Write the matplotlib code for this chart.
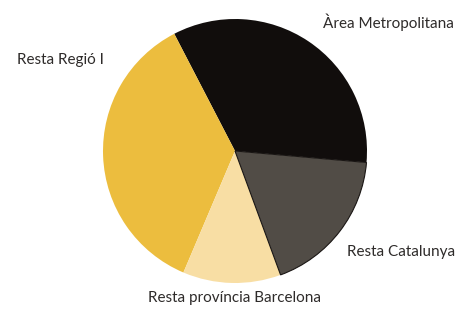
import matplotlib.pyplot as plt

# shares of each zone
labels = ['Àrea Metropolitana', 'Resta Regió I', 'Resta província Barcelona', 'Resta Catalunya']
shares = [34, 36, 12, 18]
colors = ['#110d0c', '#ecbd3e', '#f8dea4', '#514c46']

plt.rcParams['font.family'] = ['Lato', 'DejaVu Sans']

fig = plt.figure(figsize=(4.63, 3.09), dpi=100)
ax = fig.add_axes([0, 0, 1, 1])

wedges, _ = ax.pie(shares, colors=colors, startangle=-5, counterclock=True,
                   center=(235, 158), radius=132, frame=True,
                   wedgeprops={'linewidth': 0})
# thin dark edge on the gray slice
wedges[3].set_edgecolor('#1a1614')
wedges[3].set_linewidth(0.8)

ax.set_xlim(0, 463)
ax.set_ylim(0, 309)
ax.set_aspect('equal')
ax.axis('off')

txt = dict(fontsize=11, color='#2e2b2a')
ax.text(388, 287, labels[0], ha='center', va='center', **txt)
ax.text(60, 249, labels[1], ha='center', va='center', **txt)
ax.text(235, 11, labels[2], ha='center', va='center', **txt)
ax.text(401, 57, labels[3], ha='center', va='center', **txt)

plt.savefig('out.png', dpi=100)
